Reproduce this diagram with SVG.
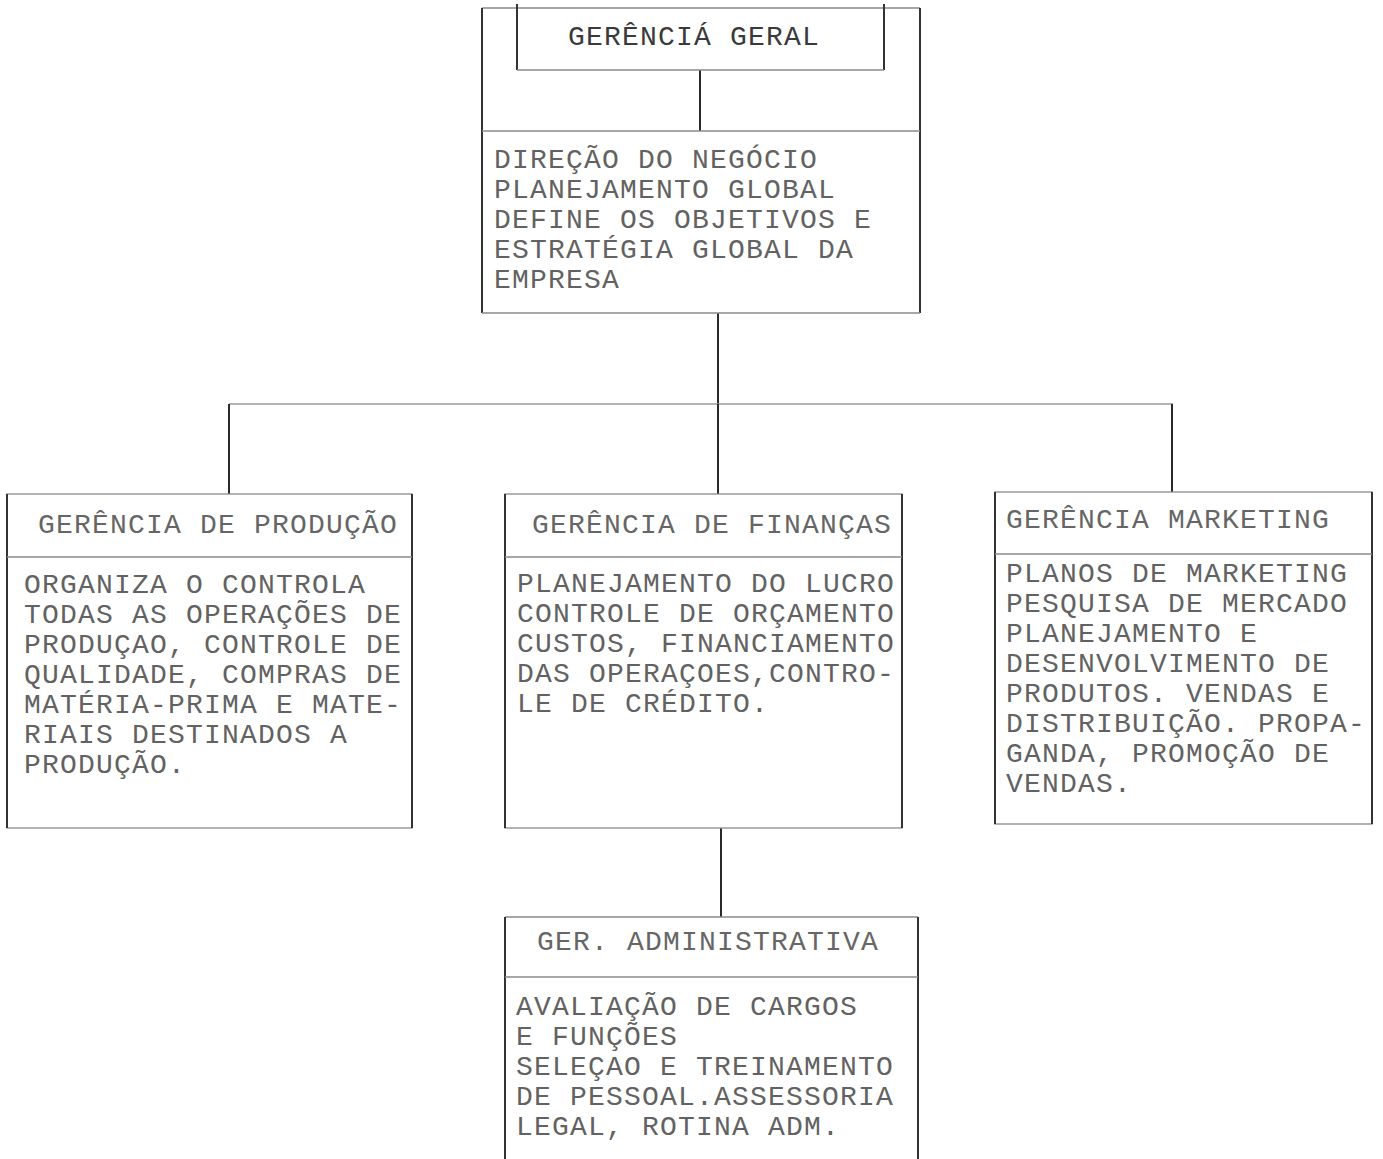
<svg xmlns="http://www.w3.org/2000/svg" width="1383" height="1159" viewBox="0 0 1383 1159">
  <style>
    .side { stroke: #333; stroke-width: 2; fill: none; }
    .rule { stroke: #8a8a8a; stroke-width: 1.3; fill: none; }
    .link { stroke: #2a2a2a; stroke-width: 2; fill: none; }
    .hlink { stroke: #9a9a9a; stroke-width: 1.3; fill: none; }
    text { font-family: "Liberation Mono", "DejaVu Sans Mono", monospace; font-size: 28px; letter-spacing: 1.2px; fill: #626262; }
    .head { fill: #666; }
    .title { fill: #3a3a3a; }
  </style>
  <rect width="1383" height="1159" fill="#ffffff"/>

  <!-- connectors -->
  <g id="connectors">
    <line class="link" x1="700" y1="70" x2="700" y2="131"/>
    <line class="link" x1="718" y1="313" x2="718" y2="404"/>
    <line class="hlink" x1="229" y1="404" x2="1173" y2="404"/>
    <line class="link" x1="229" y1="404" x2="229" y2="494"/>
    <line class="link" x1="718" y1="404" x2="718" y2="494"/>
    <line class="link" x1="1172" y1="404" x2="1172" y2="492"/>
    <line class="link" x1="721" y1="828" x2="721" y2="917"/>
  </g>

  <!-- general management -->
  <g id="gerencia-geral">
    <line class="rule" x1="482" y1="8" x2="920" y2="8"/>
    <line class="side" x1="482" y1="8" x2="482" y2="313"/>
    <line class="side" x1="920" y1="8" x2="920" y2="313"/>
    <line class="rule" x1="482" y1="313" x2="920" y2="313"/>
    <line class="side" x1="517" y1="4" x2="517" y2="70"/>
    <line class="side" x1="884" y1="4" x2="884" y2="70"/>
    <line class="rule" x1="517" y1="70" x2="884" y2="70"/>
    <line class="rule" x1="482" y1="131" x2="920" y2="131"/>
    <text class="title" x="568" y="45">GERÊNCIÁ GERAL</text>
    <text x="494" y="168">DIREÇÃO DO NEGÓCIO</text>
    <text x="494" y="198">PLANEJAMENTO GLOBAL</text>
    <text x="494" y="228">DEFINE OS OBJETIVOS E</text>
    <text x="494" y="258">ESTRATÉGIA GLOBAL DA</text>
    <text x="494" y="288">EMPRESA</text>
  </g>

  <!-- production -->
  <g id="gerencia-producao">
    <rect class="rule" x="7" y="494" width="405" height="334"/>
    <line class="side" x1="7" y1="494" x2="7" y2="828"/>
    <line class="side" x1="412" y1="494" x2="412" y2="828"/>
    <line class="rule" x1="7" y1="557" x2="412" y2="557"/>
    <text class="head" x="38" y="533">GERÊNCIA DE PRODUÇÃO</text>
    <text x="24" y="593">ORGANIZA O CONTROLA</text>
    <text x="24" y="623">TODAS AS OPERAÇÕES DE</text>
    <text x="24" y="653">PRODUÇAO, CONTROLE DE</text>
    <text x="24" y="683">QUALIDADE, COMPRAS DE</text>
    <text x="24" y="713">MATÉRIA-PRIMA E MATE-</text>
    <text x="24" y="743">RIAIS DESTINADOS A</text>
    <text x="24" y="773">PRODUÇÃO.</text>
  </g>

  <!-- finance -->
  <g id="gerencia-financas">
    <rect class="rule" x="505" y="494" width="397" height="334"/>
    <line class="side" x1="505" y1="494" x2="505" y2="828"/>
    <line class="side" x1="902" y1="494" x2="902" y2="828"/>
    <line class="rule" x1="505" y1="557" x2="902" y2="557"/>
    <text class="head" x="532" y="533">GERÊNCIA DE FINANÇAS</text>
    <text x="517" y="592">PLANEJAMENTO DO LUCRO</text>
    <text x="517" y="622">CONTROLE DE ORÇAMENTO</text>
    <text x="517" y="652">CUSTOS, FINANCIAMENTO</text>
    <text x="517" y="682">DAS OPERAÇOES,CONTRO-</text>
    <text x="517" y="712">LE DE CRÉDITO.</text>
  </g>

  <!-- marketing -->
  <g id="gerencia-marketing">
    <rect class="rule" x="995" y="492" width="377" height="332"/>
    <line class="side" x1="995" y1="492" x2="995" y2="824"/>
    <line class="side" x1="1372" y1="492" x2="1372" y2="824"/>
    <line class="rule" x1="995" y1="554" x2="1372" y2="554"/>
    <text class="head" x="1006" y="528">GERÊNCIA MARKETING</text>
    <text x="1006" y="582">PLANOS DE MARKETING</text>
    <text x="1006" y="612">PESQUISA DE MERCADO</text>
    <text x="1006" y="642">PLANEJAMENTO E</text>
    <text x="1006" y="672">DESENVOLVIMENTO DE</text>
    <text x="1006" y="702">PRODUTOS. VENDAS E</text>
    <text x="1006" y="732">DISTRIBUIÇÃO. PROPA-</text>
    <text x="1006" y="762">GANDA, PROMOÇÃO DE</text>
    <text x="1006" y="792">VENDAS.</text>
  </g>

  <!-- administration -->
  <g id="gerencia-administrativa">
    <line class="rule" x1="505" y1="917" x2="918" y2="917"/>
    <line class="side" x1="505" y1="917" x2="505" y2="1159"/>
    <line class="side" x1="918" y1="917" x2="918" y2="1159"/>
    <line class="rule" x1="505" y1="977" x2="918" y2="977"/>
    <text class="head" x="537" y="950">GER. ADMINISTRATIVA</text>
    <text x="516" y="1015">AVALIAÇÃO DE CARGOS</text>
    <text x="516" y="1045">E FUNÇÕES</text>
    <text x="516" y="1075">SELEÇAO E TREINAMENTO</text>
    <text x="516" y="1105">DE PESSOAL.ASSESSORIA</text>
    <text x="516" y="1135">LEGAL, ROTINA ADM.</text>
  </g>
</svg>
